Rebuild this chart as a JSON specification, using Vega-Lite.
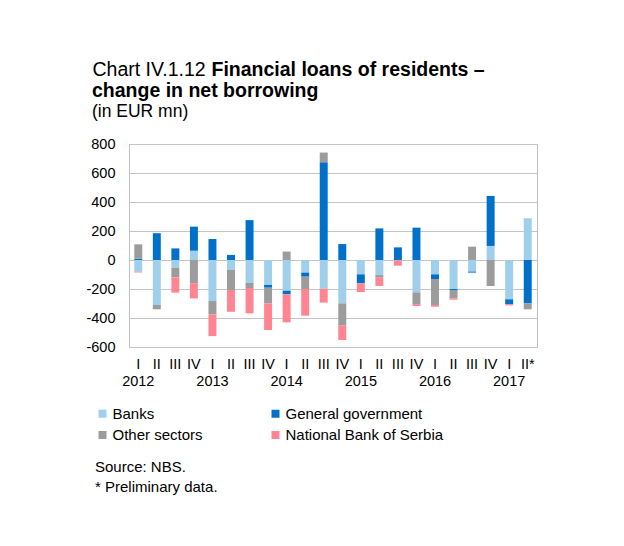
{
  "$schema": "https://vega.github.io/schema/vega-lite/v6.json",
  "width": 408,
  "height": 203,
  "autosize": {"type": "none"},
  "padding": {"left": 129, "top": 144, "right": 87, "bottom": 199},
  "background": "white",
  "config": {
    "font": "Liberation Sans",
    "view": {"stroke": "#bfbfbf", "strokeWidth": 1},
    "axis": {"labelColor": "black", "labelFont": "Liberation Sans"},
    "axisY": {"labelOverlap": false, "labelBound": false, "labelFlush": false}
  },
  "title": {
    "text": "change in net borrowing",
    "subtitle": "(in EUR mn)",
    "anchor": "start",
    "frame": "group",
    "dx": -37,
    "dy": 62,
    "offset": 0,
    "font": "Liberation Sans",
    "fontSize": 19.5,
    "fontWeight": "bold",
    "color": "black",
    "lineHeight": 23,
    "subtitleFont": "Liberation Sans",
    "subtitleFontSize": 17.5,
    "subtitleColor": "black",
    "subtitlePadding": 1
  },
  "data": {
    "values": [
      {"q": "2012-I", "s": "Banks", "k": 1, "v": -80},
      {"q": "2012-I", "s": "General government", "k": 2, "v": 8},
      {"q": "2012-I", "s": "Other sectors", "k": 3, "v": 100},
      {"q": "2012-I", "s": "National Bank of Serbia", "k": 4, "v": -6},
      {"q": "2012-II", "s": "Banks", "k": 1, "v": -310},
      {"q": "2012-II", "s": "General government", "k": 2, "v": 185},
      {"q": "2012-II", "s": "Other sectors", "k": 3, "v": -30},
      {"q": "2012-II", "s": "National Bank of Serbia", "k": 4, "v": 0},
      {"q": "2012-III", "s": "Banks", "k": 1, "v": -53},
      {"q": "2012-III", "s": "General government", "k": 2, "v": 80},
      {"q": "2012-III", "s": "Other sectors", "k": 3, "v": -67},
      {"q": "2012-III", "s": "National Bank of Serbia", "k": 4, "v": -105},
      {"q": "2012-IV", "s": "Banks", "k": 1, "v": 64},
      {"q": "2012-IV", "s": "General government", "k": 2, "v": 166},
      {"q": "2012-IV", "s": "Other sectors", "k": 3, "v": -160},
      {"q": "2012-IV", "s": "National Bank of Serbia", "k": 4, "v": -105},
      {"q": "2013-I", "s": "Banks", "k": 1, "v": -283},
      {"q": "2013-I", "s": "General government", "k": 2, "v": 145},
      {"q": "2013-I", "s": "Other sectors", "k": 3, "v": -92},
      {"q": "2013-I", "s": "National Bank of Serbia", "k": 4, "v": -150},
      {"q": "2013-II", "s": "Banks", "k": 1, "v": -69},
      {"q": "2013-II", "s": "General government", "k": 2, "v": 35},
      {"q": "2013-II", "s": "Other sectors", "k": 3, "v": -138},
      {"q": "2013-II", "s": "National Bank of Serbia", "k": 4, "v": -150},
      {"q": "2013-III", "s": "Banks", "k": 1, "v": -156},
      {"q": "2013-III", "s": "General government", "k": 2, "v": 275},
      {"q": "2013-III", "s": "Other sectors", "k": 3, "v": -37},
      {"q": "2013-III", "s": "National Bank of Serbia", "k": 4, "v": -175},
      {"q": "2013-IV", "s": "Banks", "k": 1, "v": -172},
      {"q": "2013-IV", "s": "General government", "k": 2, "v": -19},
      {"q": "2013-IV", "s": "Other sectors", "k": 3, "v": -108},
      {"q": "2013-IV", "s": "National Bank of Serbia", "k": 4, "v": -184},
      {"q": "2014-I", "s": "Banks", "k": 1, "v": -212},
      {"q": "2014-I", "s": "General government", "k": 2, "v": -25},
      {"q": "2014-I", "s": "Other sectors", "k": 3, "v": 58},
      {"q": "2014-I", "s": "National Bank of Serbia", "k": 4, "v": -193},
      {"q": "2014-II", "s": "Banks", "k": 1, "v": -87},
      {"q": "2014-II", "s": "General government", "k": 2, "v": -28},
      {"q": "2014-II", "s": "Other sectors", "k": 3, "v": -85},
      {"q": "2014-II", "s": "National Bank of Serbia", "k": 4, "v": -184},
      {"q": "2014-III", "s": "Banks", "k": 1, "v": -198},
      {"q": "2014-III", "s": "General government", "k": 2, "v": 674},
      {"q": "2014-III", "s": "Other sectors", "k": 3, "v": 67},
      {"q": "2014-III", "s": "National Bank of Serbia", "k": 4, "v": -96},
      {"q": "2014-IV", "s": "Banks", "k": 1, "v": -299},
      {"q": "2014-IV", "s": "General government", "k": 2, "v": 110},
      {"q": "2014-IV", "s": "Other sectors", "k": 3, "v": -154},
      {"q": "2014-IV", "s": "National Bank of Serbia", "k": 4, "v": -99},
      {"q": "2015-I", "s": "Banks", "k": 1, "v": -99},
      {"q": "2015-I", "s": "General government", "k": 2, "v": -62},
      {"q": "2015-I", "s": "Other sectors", "k": 3, "v": 0},
      {"q": "2015-I", "s": "National Bank of Serbia", "k": 4, "v": -60},
      {"q": "2015-II", "s": "Banks", "k": 1, "v": -104},
      {"q": "2015-II", "s": "General government", "k": 2, "v": 218},
      {"q": "2015-II", "s": "Other sectors", "k": 3, "v": -18},
      {"q": "2015-II", "s": "National Bank of Serbia", "k": 4, "v": -57},
      {"q": "2015-III", "s": "Banks", "k": 1, "v": -3},
      {"q": "2015-III", "s": "General government", "k": 2, "v": 87},
      {"q": "2015-III", "s": "Other sectors", "k": 3, "v": 0},
      {"q": "2015-III", "s": "National Bank of Serbia", "k": 4, "v": -36},
      {"q": "2015-IV", "s": "Banks", "k": 1, "v": -223},
      {"q": "2015-IV", "s": "General government", "k": 2, "v": 223},
      {"q": "2015-IV", "s": "Other sectors", "k": 3, "v": -81},
      {"q": "2015-IV", "s": "National Bank of Serbia", "k": 4, "v": -13},
      {"q": "2016-I", "s": "Banks", "k": 1, "v": -99},
      {"q": "2016-I", "s": "General government", "k": 2, "v": -32},
      {"q": "2016-I", "s": "Other sectors", "k": 3, "v": -179},
      {"q": "2016-I", "s": "National Bank of Serbia", "k": 4, "v": -12},
      {"q": "2016-II", "s": "Banks", "k": 1, "v": -200},
      {"q": "2016-II", "s": "General government", "k": 2, "v": -7},
      {"q": "2016-II", "s": "Other sectors", "k": 3, "v": -57},
      {"q": "2016-II", "s": "National Bank of Serbia", "k": 4, "v": -10},
      {"q": "2016-III", "s": "Banks", "k": 1, "v": -80},
      {"q": "2016-III", "s": "General government", "k": 2, "v": -7},
      {"q": "2016-III", "s": "Other sectors", "k": 3, "v": 92},
      {"q": "2016-III", "s": "National Bank of Serbia", "k": 4, "v": 0},
      {"q": "2016-IV", "s": "Banks", "k": 1, "v": 97},
      {"q": "2016-IV", "s": "General government", "k": 2, "v": 345},
      {"q": "2016-IV", "s": "Other sectors", "k": 3, "v": -179},
      {"q": "2016-IV", "s": "National Bank of Serbia", "k": 4, "v": 0},
      {"q": "2017-I", "s": "Banks", "k": 1, "v": -271},
      {"q": "2017-I", "s": "General government", "k": 2, "v": -33},
      {"q": "2017-I", "s": "Other sectors", "k": 3, "v": 0},
      {"q": "2017-I", "s": "National Bank of Serbia", "k": 4, "v": -9},
      {"q": "2017-II*", "s": "Banks", "k": 1, "v": 288},
      {"q": "2017-II*", "s": "General government", "k": 2, "v": -299},
      {"q": "2017-II*", "s": "Other sectors", "k": 3, "v": -41},
      {"q": "2017-II*", "s": "National Bank of Serbia", "k": 4, "v": 0}
    ]
  },
  "encoding": {
    "x": {
      "field": "q",
      "type": "nominal",
      "sort": null,
      "scale": {"paddingInner": 0.57, "paddingOuter": 0.285},
      "axis": {
        "title": "Financial loans of residents –",
        "titleX": 82,
        "titleY": -272,
        "titleAlign": "left",
        "titleAnchor": "start",
        "titleBaseline": "alphabetic",
        "titleFont": "Liberation Sans",
        "titleFontSize": 19.5,
        "titleFontWeight": "bold",
        "titleColor": "black",
        "labelExpr": "split(datum.value,'-')[1] == 'I' ? [split(datum.value,'-')[1], split(datum.value,'-')[0]] : split(datum.value,'-')[1]",
        "labelAngle": 0,
        "labelAlign": "center",
        "labelBaseline": "top",
        "labelPadding": 10,
        "labelLineHeight": 17.5,
        "labelFontSize": 14.5,
        "labelOverlap": false,
        "ticks": false,
        "tickSize": 0,
        "domain": false,
        "grid": false
      }
    },
    "y": {
      "field": "v",
      "type": "quantitative",
      "stack": "zero",
      "scale": {"domain": [-600, 800], "nice": false},
      "axis": {
        "values": [-600, -400, -200, 0, 200, 400, 600, 800],
        "labelExpr": "'' + datum.value",
        "labelOverlap": false,
        "labelFontSize": 14.5,
        "labelPadding": 14,
        "ticks": false,
        "domain": false,
        "grid": true,
        "gridColor": "#c4c4c4",
        "gridWidth": 1,
        "title": "Chart IV.1.12",
        "titleAngle": 0,
        "titleAlign": "left",
        "titleBaseline": "alphabetic",
        "titleX": -37,
        "titleY": -69,
        "titleFont": "Liberation Sans",
        "titleFontSize": 19.5,
        "titleFontWeight": "normal",
        "titleColor": "black"
      }
    }
  },
  "layer": [
    {
      "mark": {"type": "bar", "strokeWidth": 0},
      "encoding": {
        "color": {
          "field": "s",
          "type": "nominal",
          "scale": {
            "domain": ["Banks", "General government", "Other sectors", "National Bank of Serbia"],
            "range": ["#9fcfeb", "#0070c9", "#9c9c9c", "#ff8593"]
          },
          "legend": {
            "orient": "none",
            "direction": "horizontal",
            "legendX": -34,
            "legendY": 262,
            "columns": 2,
            "columnPadding": 65,
            "rowPadding": 5.5,
            "padding": 0,
            "symbolType": "square",
            "symbolSize": 64,
            "symbolStrokeWidth": 0,
            "labelOffset": 2.5,
            "labelFontSize": 15,
            "labelFont": "Liberation Sans",
            "labelColor": "black",
            "labelLimit": 300,
            "title": ["Source: NBS.", "* Preliminary data."],
            "titleOrient": "bottom",
            "titleAnchor": "start",
            "titleAlign": "left",
            "titleFont": "Liberation Sans",
            "titleFontSize": 15,
            "titleFontWeight": "normal",
            "titleColor": "black",
            "titleLineHeight": 20,
            "titlePadding": 17,
            "titleLimit": 400
          }
        },
        "order": {"field": "k", "type": "quantitative"}
      }
    },
    {
      "mark": {"type": "rule", "color": "#b3b3b3", "strokeWidth": 2},
      "encoding": {"y": {"datum": 0, "type": "quantitative"}}
    }
  ]
}
